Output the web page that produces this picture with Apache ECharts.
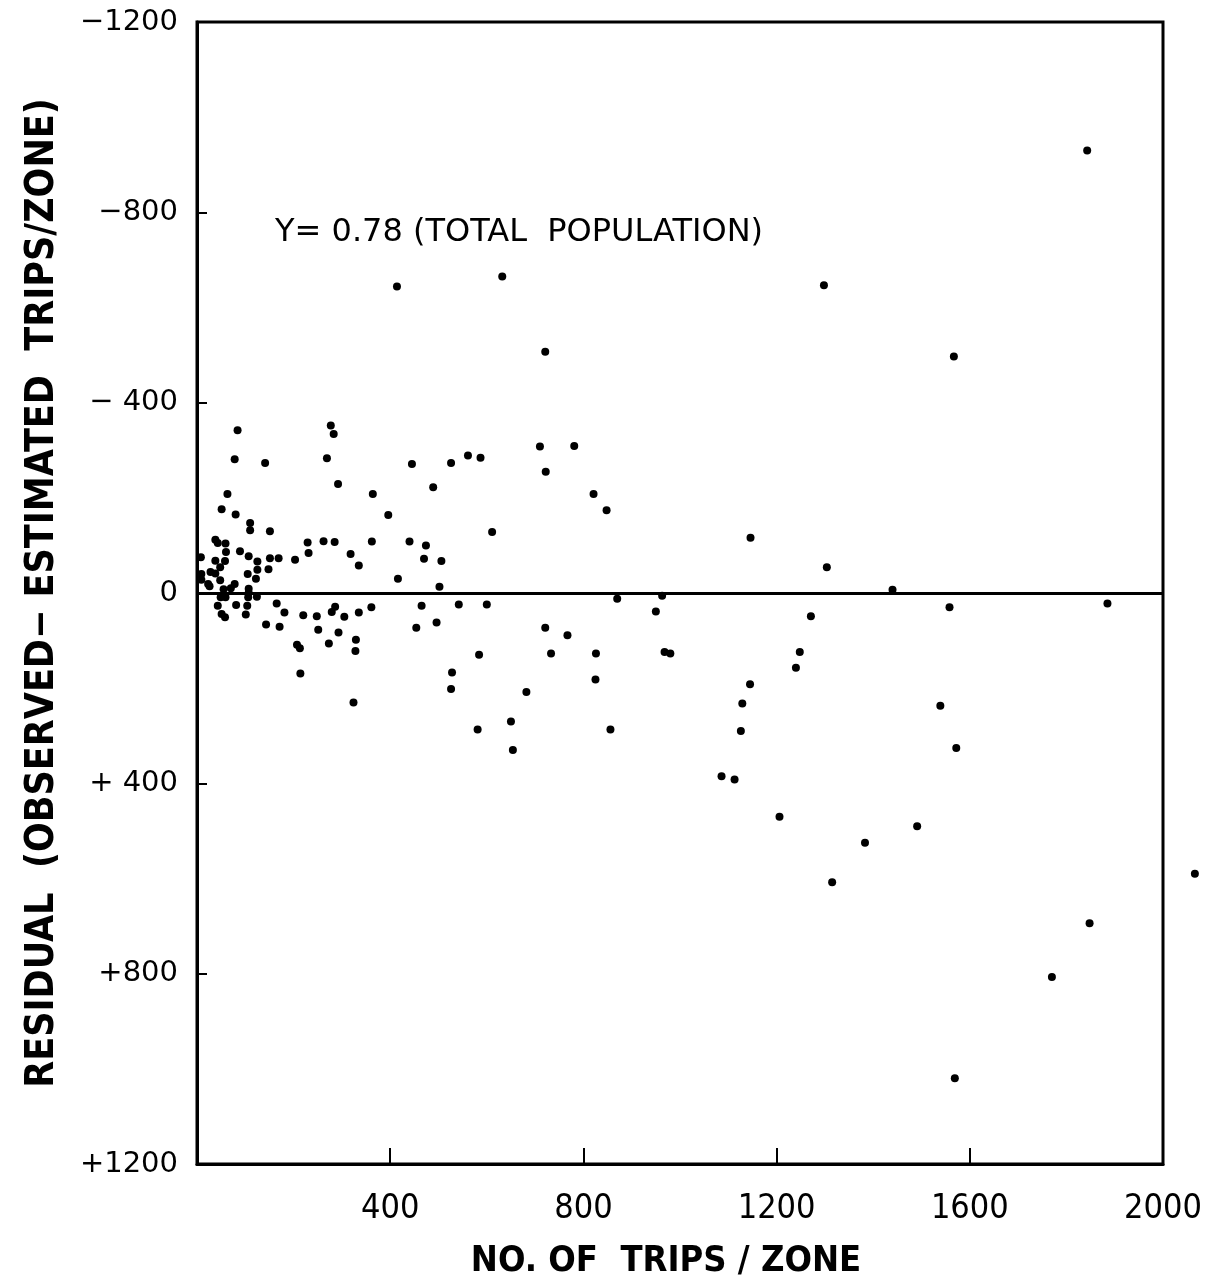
<!DOCTYPE html>
<html>
<head>
<meta charset="utf-8">
<script src="https://cdn.jsdelivr.net/npm/echarts@6/dist/echarts.min.js"></script>
<style>
html,body{margin:0;padding:0;background:#fff;}
#chart{width:1225px;height:1285px;}
</style>
</head>
<body>
<div id="chart"></div>
<script>
// Data (x = trips per zone, y = residual, positive downward)
var tripsPerZone = [
 1843,414,632,1298,721,1567,84,277,283,78,141,269,292,63,364,51,80,396,110,110,151,
 38,43,59,60,89,229,262,285,362,231,318,335,8,38,58,48,107,125,125,151,169,148,203,
 9,9,28,38,105,122,48,23,26,78,70,55,107,107,49,59,106,124,43,81,104,51,58,101,165,181,
 143,171,220,248,279,286,305,335,361,251,273,293,329,328,207,213,214,324,
 445,526,561,587,710,781,722,489,821,848,611,440,474,470,506,416,502,870,465,542,600,
 454,496,721,767,584,733,826,528,526,825,682,650,581,856,654,
 1146,1304,1440,963,950,968,980,1271,1248,1240,1145,1129,1126,1086,1113,1206,1491,1383,1315,
 1558,1885,1539,1572,2066,1848,1770,1569
];
var residuals = [
 -930,-644,-665,-647,-507,-497,-342,-352,-334,-281,-273,-283,-229,-208,-208,-176,-165,-164,-147,-132,-130,
 -112,-105,-104,-86,-88,-106,-109,-107,-108,-84,-82,-58,-75,-68,-67,-54,-77,-66,-49,-73,-73,-50,-70,
 -40,-28,-44,-41,-40,-30,-27,-19,-14,-19,-10,-8,-9,0,9,9,9,8,27,25,27,44,51,45,22,41,
 66,71,47,49,40,29,50,41,30,77,106,83,98,122,109,116,169,230,
 -271,-273,-289,-284,-308,-309,-255,-222,-208,-174,-128,-108,-100,-72,-67,-30,-13,12,27,24,24,
 73,62,73,89,130,127,127,167,202,182,208,270,287,287,330,
 -116,-54,-7,6,39,124,127,49,124,157,192,232,290,385,392,470,490,525,608,
 30,22,237,326,590,694,807,1020
];
var xTickLabels = ['', '400', '800', '1200', '1600', '2000'];
var yTickValues = [-1200, -800, -400, 0, 400, 800, 1200];
var yTickLabels = ['\u22121200', '\u2212800', '\u2212 400', '0', '+ 400', '+800', '+1200'];
var annotationText = 'Y= 0.78 (TOTAL  POPULATION)';
var xTitle = 'NO. OF  TRIPS / ZONE';
var yTitle = 'RESIDUAL  (OBSERVED\u2212 ESTIMATED  TRIPS/ZONE)';

var points = tripsPerZone.map(function (x, i) { return [x, residuals[i]]; });
var condensed = "'DejaVu Sans Condensed', 'Liberation Sans', sans-serif";

var chart = echarts.init(document.getElementById('chart'), null, {renderer: 'canvas'});
chart.setOption({
  backgroundColor: '#fff',
  animation: false,
  grid: {left: 197, right: 62, top: 22, bottom: 117, show: true, borderColor: '#000', borderWidth: 3, backgroundColor: 'transparent'},
  xAxis: {
    type: 'value', min: 0, max: 2000, interval: 400,
    name: xTitle, nameLocation: 'middle', nameGap: 80,
    nameTextStyle: {fontFamily: condensed, fontWeight: 'bold', fontSize: 36, color: '#000', padding: [0, 28, 0, 0]},
    axisLine: {show: true, onZero: false, lineStyle: {color: '#000', width: 3}},
    axisTick: {show: true, inside: true, length: 16, lineStyle: {color: '#000', width: 2}},
    splitLine: {show: false},
    axisLabel: {
      margin: 28, color: '#000', fontFamily: condensed, fontSize: 34,
      formatter: function (v) { return xTickLabels[Math.round(v / 400)]; }
    }
  },
  yAxis: {
    type: 'value', min: -1200, max: 1200, interval: 400, inverse: true,
    name: yTitle, nameLocation: 'middle', nameGap: 135, nameRotate: 90,
    nameTextStyle: {fontFamily: condensed, fontWeight: 'bold', fontSize: 39, color: '#000'},
    axisLine: {show: true, onZero: false, lineStyle: {color: '#000', width: 3}},
    axisTick: {show: true, inside: true, length: 10, lineStyle: {color: '#000', width: 2}},
    splitLine: {show: false},
    axisLabel: {
      margin: 19, color: '#000', fontFamily: 'DejaVu Sans', fontSize: 29,
      formatter: function (v) { return yTickLabels[yTickValues.indexOf(v)]; }
    }
  },
  graphic: [{
    type: 'text', left: 275, top: 217,
    style: {text: annotationText, font: '32px "DejaVu Sans"', fill: '#000'}
  }],
  series: [{
    type: 'scatter',
    data: points,
    symbol: 'circle',
    symbolSize: 8,
    clip: false,
    itemStyle: {color: '#000', opacity: 1},
    markLine: {
      silent: true, symbol: ['none', 'none'],
      label: {show: false},
      lineStyle: {color: '#000', width: 3, type: 'solid'},
      data: [{yAxis: 0}]
    }
  }]
});
</script>
</body>
</html>
